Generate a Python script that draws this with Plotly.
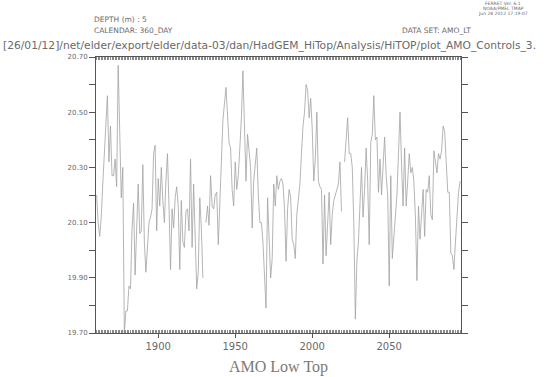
import plotly.graph_objects as go

# ---- data ----
years = list(range(1860, 2097))

amo_1860_1908 = [20.20, 20.10, 20.05, 20.12, 20.24, 20.36, 20.44, 20.56, 20.32, 20.45,
                 20.27, 20.27, 20.33, 20.23, 20.67, 20.45, 20.19, 20.30, 19.70, 19.78,
                 19.78, 19.87, 19.86, 20.08, 20.17, 19.91, 20.05, 20.24, 20.06, 20.07,
                 20.31, 20.03, 19.92, 20.03, 20.10, 20.12, 20.15, 20.35, 20.38, 20.07,
                 20.26, 20.16, 20.30, 20.18, 20.10, 20.25, 20.35, 20.16, 19.93]
amo_1909_1956 = [20.15, 20.08, 20.19, 20.23, 20.16, 19.93, 20.18, 20.03, 20.01, 20.14,
                 20.15, 20.07, 20.33, 20.01, 20.24, 20.03, 19.86, 19.92, 20.19, 20.08,
                 19.90, None, 20.10, 20.16, 20.09, 20.27, 20.16, 20.15, 20.20, 20.21,
                 20.02, 20.18, 20.32, 20.47, 20.53, 20.59, 20.49, 20.39, 20.37, 20.22,
                 20.16, 20.32, 20.22, 20.27, 20.37, 20.48, 20.65, 20.45]
amo_1957_2003 = [20.25, 20.42, 20.37, 20.30, 20.08, 20.25, 20.31, 20.37, 20.20, 20.10,
                 20.10, 20.03, 19.91, 19.79, 20.19, 20.01, 19.90, 19.97, 20.24, 20.16,
                 20.27, 20.22, 20.25, 20.26, 20.24, 20.15, 19.96, 20.15, 20.22, 20.19,
                 20.04, 20.02, 19.97, 20.13, 20.19, 20.24, 20.35, 20.45, 20.50, 20.60,
                 20.58, 20.48, 20.55, 20.44, 20.25, 20.33, 20.50]
amo_2004_2051 = [20.25, 20.23, 20.22, 19.95, 20.20, 19.98, 20.09, 20.21, 20.02, 20.13,
                 20.18, 20.20, 20.22, 20.24, 20.32, 20.14, None, 20.32, 20.39, 20.48,
                 20.35, 20.35, 20.30, 20.10, 19.75, 19.96, 20.03, 20.19, 20.30, 20.12,
                 20.22, 20.37, 20.25, 20.02, 20.39, 20.42, 20.56, 20.40, 20.41, 20.21,
                 20.33, 20.20, 20.31, 20.41, 20.27, 20.20, 19.87, 20.27]
amo_2052_2096 = [19.97, 20.05, 20.10, 20.20, 20.35, 20.50, 20.31, 20.16, 20.37, 20.16,
                 20.25, 20.35, 20.28, 20.30, 20.25, 20.12, 19.89, 20.16, 20.04, 20.14,
                 20.22, 20.05, 20.22, 20.21, 20.27, 20.13, 20.11, 20.36, 20.31, 20.28,
                 20.35, 20.33, 20.36, 20.45, 20.43, 20.31, 20.21, 20.21, 19.99, 19.98,
                 19.93, 20.03, 20.13, 20.21, 20.25]

amo = amo_1860_1908 + amo_1909_1956 + amo_1957_2003 + amo_2004_2051 + amo_2052_2096

x_tick_vals = [1900, 1950, 2000, 2050]
x_tick_text = ["1900", "1950", "2000", "2050"]
y_tick_vals = [19.7, 19.8, 19.9, 20.0, 20.1, 20.2, 20.3, 20.4, 20.5, 20.6, 20.7]
y_tick_text = ["19.70", "", "19.90", "", "20.10", "", "20.30", "", "20.50", "", "20.70"]

# ---- layout geometry ----
W, H = 550, 377
L, R, T, B = 96, 89, 57, 44
PW, PH = W - L - R, H - T - B


def px(xp):
    return (xp - L) / PW


def py(yp):
    return (H - B - yp) / PH


TXT = "#6a6a6a"
AX = "#555555"
X_RANGE = [1859.6, 2096.6]

fig = go.Figure()
fig.add_trace(go.Scatter(
    x=years[:len(amo)], y=amo, mode="lines",
    line=dict(color="#a2a2a2", width=0.8),
    connectgaps=False, hoverinfo="skip", showlegend=False,
))
# invisible companion trace so the top (mirrored) year axis is drawn
fig.add_trace(go.Scatter(
    x=years[:len(amo)], y=amo, mode="lines", xaxis="x2",
    line=dict(color="rgba(0,0,0,0)", width=0),
    hoverinfo="skip", showlegend=False,
))

minor_ticks = dict(dtick=1, tick0=1860, ticks="inside", ticklen=3,
                   tickcolor="#888888", tickwidth=1, showgrid=False)

fig.update_layout(
    width=W, height=H,
    margin=dict(l=L, r=R, t=T, b=B, pad=0),
    paper_bgcolor="white", plot_bgcolor="white",
    showlegend=False,
    xaxis=dict(
        range=X_RANGE,
        showgrid=False, zeroline=False,
        showline=True, linecolor=AX, linewidth=1, mirror=True,
        tickmode="array", tickvals=x_tick_vals, ticktext=x_tick_text,
        ticks="outside", ticklen=4, tickcolor=AX, tickwidth=1,
        tickfont=dict(family="DejaVu Sans", size=10, color=TXT),
        minor=minor_ticks,
    ),
    xaxis2=dict(
        range=X_RANGE, overlaying="x", side="top", anchor="y",
        showgrid=False, zeroline=False,
        showline=True, linecolor=AX, linewidth=1,
        tickmode="array", tickvals=x_tick_vals, ticktext=["", "", "", ""],
        ticks="outside", ticklen=4, tickcolor=AX, tickwidth=1,
        showticklabels=False,
        minor=minor_ticks,
    ),
    yaxis=dict(
        range=[19.70, 20.70],
        showgrid=False, zeroline=False,
        showline=True, linecolor=AX, linewidth=1, mirror="ticks",
        tickmode="array", tickvals=y_tick_vals, ticktext=y_tick_text,
        ticks="outside", ticklen=6, tickcolor=AX, tickwidth=1,
        tickfont=dict(family="DejaVu Sans", size=7, color=TXT),
    ),
)

ann = []


def add_text(text, xp, yp, size, xanchor="left", family="DejaVu Sans", color=TXT):
    ann.append(dict(
        text=text, x=px(xp), y=py(yp), xref="paper", yref="paper",
        xanchor=xanchor, yanchor="middle", showarrow=False,
        font=dict(family=family, size=size, color=color),
    ))


add_text("FERRET Ver. 6.1", 503, 3.5, 4.5, xanchor="center")
add_text("NOAA/PMEL TMAP", 503, 8.5, 4.5, xanchor="center")
add_text("Jun 28 2012 17:19:07", 503, 13.5, 4.5, xanchor="center")
add_text("DEPTH (m) : 5", 92, 19, 7.5)
add_text("CALENDAR: 360_DAY", 92, 30, 7.5)
add_text("DATA SET: AMO_LT", 400, 30, 7.5)
add_text("[26/01/12]/net/elder/export/elder/data-03/dan/HadGEM_HiTop/Analysis/HiTOP/plot_AMO_Controls_3.",
         1, 45, 10.7)
add_text("AMO Low Top", 278, 367, 16, xanchor="center", family="Liberation Serif",
         color="#7a7a7a")

fig.update_layout(annotations=ann)

fig.write_html("out.html",
               config={"displayModeBar": False, "staticPlot": True},
               post_script="document.body.style.margin='0';document.body.style.overflow='hidden';")
